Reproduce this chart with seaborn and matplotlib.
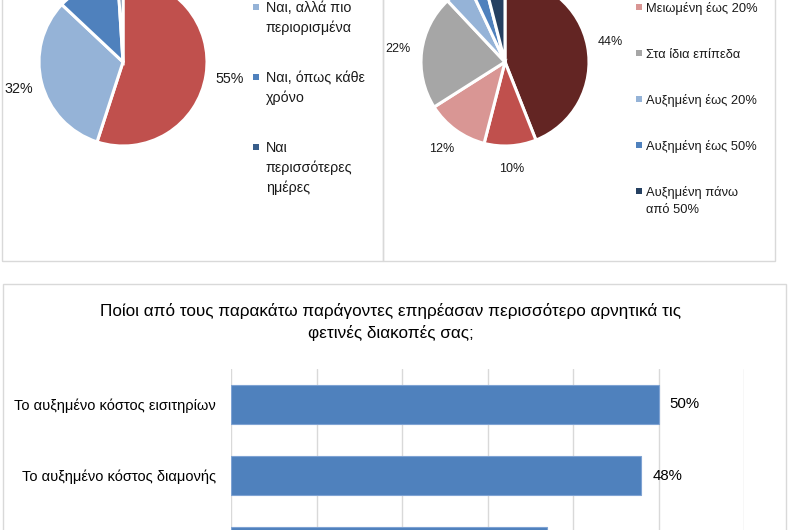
import matplotlib
matplotlib.use("Agg")
import matplotlib.pyplot as plt
import seaborn as sns
import pandas as pd
from matplotlib.patches import Rectangle

# ---------------- data ----------------
left_labels = ["Όχι", "Ναι, αλλά πιο\nπεριορισμένα", "Ναι, όπως κάθε\nχρόνο",
               "Ναι\nπερισσότερες\nημέρες"]
left_values = [55, 32, 12, 1]
left_colors = ["#C0504D", "#95B3D7", "#4F81BD", "#385D8A"]

right_labels = ["Μειωμένη πάνω από 50%", "Μειωμένη έως 50%", "Μειωμένη έως 20%",
                "Στα ίδια επίπεδα", "Αυξημένη έως 20%", "Αυξημένη έως 50%",
                "Αυξημένη πάνω\nαπό 50%"]
right_values = [44, 10, 12, 22, 5, 3, 4]
right_colors = ["#632523", "#C0504D", "#D99694", "#A6A6A6", "#95B3D7", "#4F81BD", "#254061"]

bar_title = ("Ποίοι από τους παρακάτω παράγοντες επηρέασαν περισσότερο αρνητικά τις\n"
             "φετινές διακοπές σας;")
bar_categories = ["Το αυξημένο κόστος εισιτηρίων", "Το αυξημένο κόστος διαμονής",
                  "Το αυξημένο κόστος εστίασης"]
bar_values = [50, 48, 37]
x_ticks = [0, 10, 20, 30, 40, 50, 60]

# ---------------- style ----------------
sns.set_theme(style="white")
plt.rcParams["font.family"] = ["Liberation Sans", "DejaVu Sans"]
TXT = "#1a1a1a"
BORDER = "#D9D9D9"

W, H = 791, 530
fig = plt.figure(figsize=(W / 100, H / 100), dpi=100)


def fbox(x0, y0, x1, y1):
    return [x0 / W, 1 - y1 / H, (x1 - x0) / W, (y1 - y0) / H]


def fx(x):
    return x / W


def fy(y):
    return 1 - y / H


# panel borders
for (x0, y0, x1, y1) in [(2, -20, 383, 261), (383, -20, 775, 261), (3, 284, 786, 620)]:
    fig.add_artist(Rectangle((fx(x0), fy(y1)), (x1 - x0) / W, (y1 - y0) / H,
                             transform=fig.transFigure, facecolor="none",
                             edgecolor=BORDER, linewidth=1.0))


def draw_pie(values, colors, cx, cy, r, fs):
    ax = fig.add_axes(fbox(cx - r, cy - r, cx + r, cy + r))
    ax.pie(values, colors=colors, startangle=90, counterclock=False, radius=1,
           wedgeprops=dict(edgecolor="white", linewidth=2.2),
           autopct=lambda p: f"{p:.0f}%", pctdistance=1.28,
           textprops=dict(fontsize=fs, color=TXT))
    ax.set_xlim(-1, 1)
    ax.set_ylim(-1, 1)
    ax.set_aspect("equal")
    ax.axis("off")
    return ax


draw_pie(left_values, left_colors, 123, 62, 84, 10.3)
draw_pie(right_values, right_colors, 505, 62, 84, 9.0)


def draw_legend(labels, colors, mx, y_start, gap, fs, line_h=20, tx=10):
    y = y_start
    for lab, col in zip(labels, colors):
        lines = lab.split("\n")
        fig.add_artist(Rectangle((fx(mx - 3), fy(y + 3)), 6 / W, 6 / H,
                                 transform=fig.transFigure, facecolor=col,
                                 edgecolor="none"))
        for i, ln in enumerate(lines):
            fig.text(fx(mx + tx), fy(y + i * line_h + 5), ln, fontsize=fs,
                     color=TXT, ha="left", va="baseline")
        y += len(lines) * line_h + gap


draw_legend(left_labels, left_colors, 256, -43, 30, 10.3)
draw_legend(right_labels, right_colors, 639, -85, 29, 9.3, line_h=17, tx=7)

# ---------------- bar chart ----------------
fig.text(fx(391), fy(322), bar_title, ha="center", va="center", fontsize=12.3,
         color="#000000", linespacing=1.5, multialignment="center")

df = pd.DataFrame({"cat": bar_categories, "val": bar_values})
axb = fig.add_axes(fbox(231, 369, 744, 369 + 71 * len(bar_categories)))
sns.barplot(data=df, x="val", y="cat", orient="h", color="#4F81BD", width=0.55,
            saturation=1, edgecolor="#7FA3D3", linewidth=0.8, ax=axb)
axb.set_xlim(0, 60)
axb.set_ylim(len(bar_categories) - 0.5, -0.5)
axb.set_xticks(x_ticks)
axb.grid(axis="x", color=BORDER, linewidth=1.0)
axb.grid(axis="y", visible=False)
axb.set_axisbelow(True)
for s in axb.spines.values():
    s.set_visible(False)
axb.tick_params(axis="both", length=0, labelbottom=False)
axb.tick_params(axis="y", pad=11)
for t in axb.get_yticklabels():
    t.set_fontsize(10.5)
    t.set_color("#000000")
axb.set_xlabel("")
axb.set_ylabel("")
axb.bar_label(axb.containers[0], labels=[f"{v}%" for v in bar_values], padding=8,
              fontsize=10.8, color="#000000")

fig.savefig("out.png", dpi=100)
